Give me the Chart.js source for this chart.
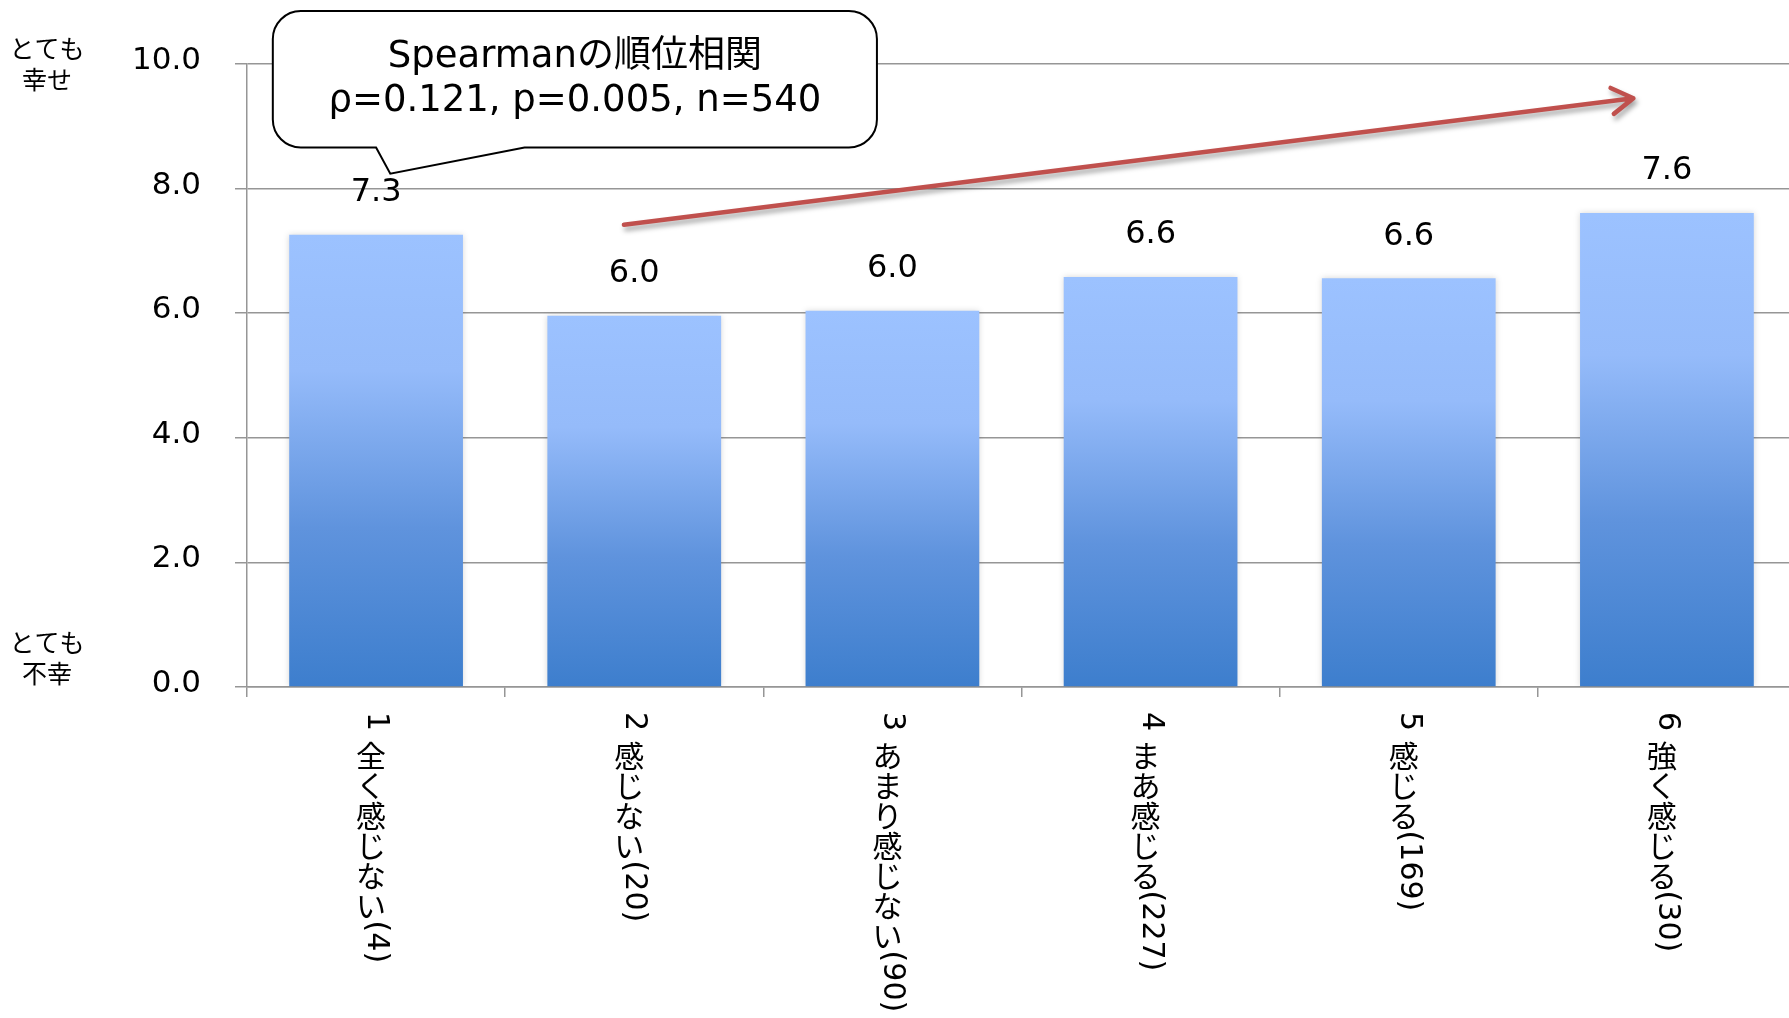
<!DOCTYPE html>
<html>
<head>
<meta charset="utf-8">
<script src="https://cdn.jsdelivr.net/npm/chart.js@4.4.1/dist/chart.umd.min.js"></script>
<style>
html,body{margin:0;padding:0;background:#fff;overflow:hidden;width:1789px;height:1018px;}
#wrap{width:1796px;height:1018px;position:relative;}
</style>
</head>
<body>
<div id="wrap"><canvas id="c"></canvas></div>
<script>
// ---- data ----
const categories = ['1 全く感じない(4)', '2 感じない(20)', '3 あまり感じない(90)', '4 まあ感じる(227)', '5 感じる(169)', '6 強く感じる(30)'];
const happiness = [7.26, 5.96, 6.04, 6.58, 6.56, 7.61];
const yMin = 0, yMax = 10, yStep = 2;
const topAxisLabel = ['とても', '幸せ'];
const bottomAxisLabel = ['とても', '不幸'];
const calloutLines = ['Spearmanの順位相関', 'ρ=0.121, p=0.005, n=540'];
// trend arrow in data coordinates (category index, value)
const arrowStart = {x: 0.96, y: 7.42};
const arrowEnd = {x: 4.87, y: 9.45};
// callout box in data coordinates
const calloutBox = {x0: -0.40, x1: 1.94, y0: 10.85, y1: 8.66};
const calloutTail = {b0: 0.0, b1: 0.575, tipX: 0.055, tipY: 8.24};

const LATIN = "'DejaVu Sans', 'Noto Sans CJK JP', sans-serif";
const CJK = "'Noto Sans CJK JP', 'DejaVu Sans', sans-serif";
const GRID = 'rgb(150,150,150)';

function barGradient(ctx) {
  const chart = ctx.chart;
  if (!chart.chartArea) return '#6a9ce6';
  const y = chart.scales.y;
  const v = happiness[ctx.dataIndex];
  const top = y.getPixelForValue(v), base = y.getPixelForValue(0);
  const g = chart.ctx.createLinearGradient(0, top, 0, base);
  g.addColorStop(0, '#9cc2ff');
  g.addColorStop(0.3, '#95bbfa');
  g.addColorStop(0.65, '#5f93dd');
  g.addColorStop(1, '#3d7ecd');
  return g;
}

const decorPlugin = {
  id: 'decor',
  beforeDatasetDraw(chart) {
    const c = chart.ctx;
    c.save();
    c.shadowColor = 'rgba(0,0,0,0.16)';
    c.shadowBlur = 6;
  },
  afterDatasetDraw(chart) {
    chart.ctx.restore();
  },
  afterDatasetsDraw(chart) {
    const c = chart.ctx;
    const meta = chart.getDatasetMeta(0);
    c.save();
    c.fillStyle = '#000';
    c.font = '32px ' + LATIN;
    c.textAlign = 'center';
    c.textBaseline = 'middle';
    meta.data.forEach((el, i) => {
      c.fillText(happiness[i].toFixed(1), el.x, el.y - 42);
    });
    c.restore();
  },
  afterDraw(chart) {
    const c = chart.ctx;
    const xs = chart.scales.x, ys = chart.scales.y;
    const px = v => xs.getPixelForValue(v);
    const py = v => ys.getPixelForValue(v);

    // vertical category labels
    c.save();
    c.fillStyle = '#000';
    categories.forEach((lab, i) => {
      const center = px(i);
      const cx = center - 5;
      let y = xs.top + 25;
      for (const ch of lab) {
        if (ch.codePointAt(0) >= 0x3000) {
          c.font = '30px ' + CJK;
          c.textAlign = 'center';
          c.textBaseline = 'middle';
          c.fillText(ch, cx, y + 15);
          y += 30;
        } else {
          c.font = '30px ' + LATIN;
          c.textAlign = 'left';
          c.textBaseline = 'alphabetic';
          const w = c.measureText(ch).width;
          c.save();
          c.translate(center - 8, y);
          c.rotate(Math.PI / 2);
          c.fillText(ch, 0, 0);
          c.restore();
          y += w;
        }
      }
    });

    // axis end labels
    c.font = '25px ' + CJK;
    c.textAlign = 'center';
    c.textBaseline = 'middle';
    const lx = 47;
    c.fillText(topAxisLabel[0], lx, py(yMax) - 16);
    c.fillText(topAxisLabel[1], lx, py(yMax) + 15);
    c.fillText(bottomAxisLabel[0], lx, py(yMin) - 45);
    c.fillText(bottomAxisLabel[1], lx, py(yMin) - 14);
    c.restore();

    // trend arrow
    const ax0 = px(arrowStart.x), ay0 = py(arrowStart.y);
    const ax1 = px(arrowEnd.x), ay1 = py(arrowEnd.y);
    const ang = Math.atan2(ay1 - ay0, ax1 - ax0);
    c.save();
    c.strokeStyle = '#c0504d';
    c.lineWidth = 4.5;
    c.lineCap = 'round';
    c.lineJoin = 'round';
    c.shadowColor = 'rgba(0,0,0,0.35)';
    c.shadowBlur = 5;
    c.shadowOffsetX = 2;
    c.shadowOffsetY = 4;
    c.beginPath();
    c.moveTo(ax0, ay0);
    c.lineTo(ax1, ay1);
    const hl = 25, ha = 0.55;
    c.moveTo(ax1 - hl * Math.cos(ang - ha), ay1 - hl * Math.sin(ang - ha));
    c.lineTo(ax1, ay1);
    c.lineTo(ax1 - hl * Math.cos(ang + ha), ay1 - hl * Math.sin(ang + ha));
    c.stroke();
    c.restore();

    // callout
    const bx0 = px(calloutBox.x0), bx1 = px(calloutBox.x1);
    const by0 = py(calloutBox.y0), by1 = py(calloutBox.y1);
    const r = 28;
    const t0 = px(calloutTail.b0), t1 = px(calloutTail.b1);
    const tx = px(calloutTail.tipX), ty = py(calloutTail.tipY);
    c.save();
    c.beginPath();
    c.moveTo(bx0 + r, by0);
    c.lineTo(bx1 - r, by0);
    c.arcTo(bx1, by0, bx1, by0 + r, r);
    c.lineTo(bx1, by1 - r);
    c.arcTo(bx1, by1, bx1 - r, by1, r);
    c.lineTo(t1, by1);
    c.lineTo(tx, ty);
    c.lineTo(t0, by1);
    c.lineTo(bx0 + r, by1);
    c.arcTo(bx0, by1, bx0, by1 - r, r);
    c.lineTo(bx0, by0 + r);
    c.arcTo(bx0, by0, bx0 + r, by0, r);
    c.closePath();
    c.fillStyle = '#fff';
    c.fill();
    c.strokeStyle = '#000';
    c.lineWidth = 2;
    c.stroke();
    c.fillStyle = '#000';
    c.font = '37px ' + LATIN;
    c.textAlign = 'center';
    c.textBaseline = 'middle';
    const mx = (bx0 + bx1) / 2;
    c.fillText(calloutLines[0], mx, by0 + 46);
    c.fillText(calloutLines[1], mx, by0 + 90);
    c.restore();
  }
};

new Chart(document.getElementById('c'), {
  type: 'bar',
  data: {
    labels: categories,
    datasets: [{
      data: happiness,
      backgroundColor: barGradient,
      borderWidth: 0,
      barPercentage: 0.673,
      categoryPercentage: 1.0
    }]
  },
  options: {
    responsive: true,
    maintainAspectRatio: false,
    devicePixelRatio: 1,
    animation: false,
    layout: {padding: {top: 64, right: 0, bottom: 0, left: 0}},
    plugins: {legend: {display: false}, tooltip: {enabled: false}},
    scales: {
      x: {
        type: 'category',
        offset: true,
        grid: {offset: true, drawOnChartArea: false, drawTicks: true, tickLength: 10, color: GRID, lineWidth: 1.5},
        border: {color: GRID, width: 1.5},
        ticks: {display: false},
        afterFit(s) { s.height = 331; }
      },
      y: {
        min: yMin,
        max: yMax,
        grid: {color: GRID, lineWidth: 1.5, tickLength: 12, drawTicks: true},
        border: {color: GRID, width: 1.5},
        ticks: {
          stepSize: yStep,
          color: '#000',
          font: {family: LATIN, size: 31},
          padding: 34,
          labelOffset: -3,
          callback: v => Number(v).toFixed(1)
        },
        afterFit(s) { s.width = 247; }
      }
    }
  },
  plugins: [decorPlugin]
});
</script>
</body>
</html>
